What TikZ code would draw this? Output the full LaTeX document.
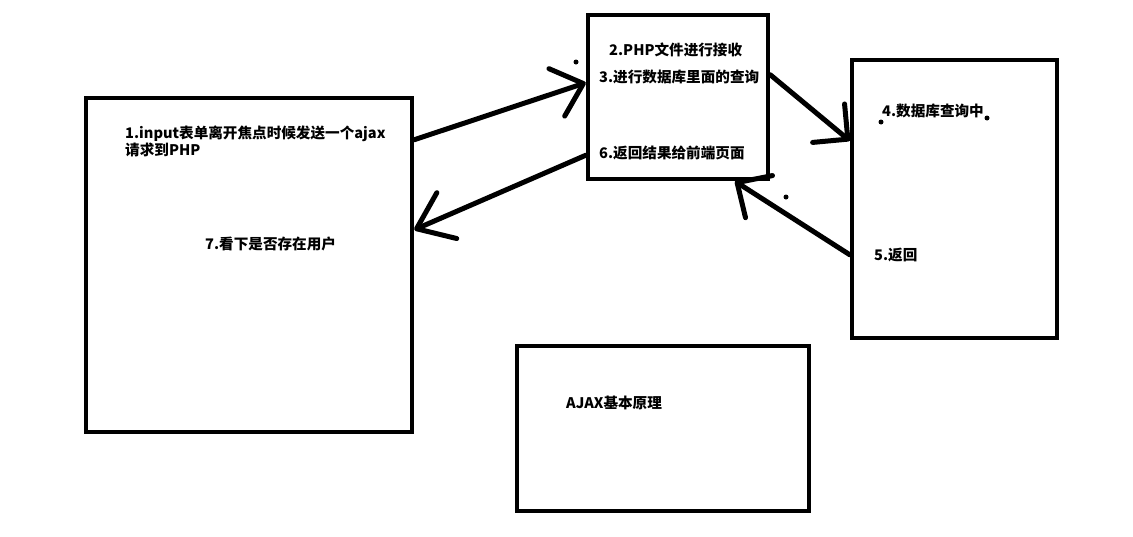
\documentclass[tikz,border=0pt]{standalone}
\usepackage{fontspec}
\setmainfont{Noto Sans CJK SC}
\usetikzlibrary{arrows.meta}

\tikzset{
	box/.style={draw, line width=4.5pt, inner sep=0pt},
	txt/.style={anchor=west, inner sep=0pt, font=\bfseries\fontsize{14.6}{17}\selectfont},
	bigarrow/.style={line width=5pt, line cap=round, -{Straight Barb[round, length=#1, width=50pt]}},
	bigarrow/.default=28pt,
	blot/.style={fill=black},
}

\begin{document}
\begin{tikzpicture}[x=1pt, y=-1pt]
	\useasboundingbox (0,0) rectangle (1133,536);

	% the four boxes
	\node[box, minimum width=326pt, minimum height=334pt] (form) at (249,265) {};
	\node[box, minimum width=180pt, minimum height=164pt] (php) at (678,97) {};
	\node[box, minimum width=205pt, minimum height=278pt] (db) at (954.5,199) {};
	\node[box, minimum width=292pt, minimum height=165pt] (title) at (663,428.5) {};

	% texts
	\node[txt, anchor=north west, align=left] (t1) at (125,126)
		{1.input表单离开焦点时候发送一个ajax\\请求到PHP};
	\node[txt] (t7) at (205,244) {7.看下是否存在用户};
	\node[txt] (t2) at (609,50) {2.PHP文件进行接收};
	\node[txt] (t3) at (599,77) {3.进行数据库里面的查询};
	\node[txt] (t6) at (599,153) {6.返回结果给前端页面};
	\node[txt] (t4) at (882,111) {4.数据库查询中};
	\node[txt] (t5) at (874,255) {5.返回};
	\node[txt] (tt) at (566,403) {AJAX基本原理};

	% arrows
	\draw[bigarrow] ([yshift=-44pt]form.north east) -- ([yshift=-70pt]php.north west);
	\draw[bigarrow=33pt] ([yshift=26pt]php.south west) -- ([yshift=-134pt]form.north east);
	\draw[bigarrow=25pt] ([yshift=-62pt]php.north east) -- ([yshift=-83pt]db.north west);
	\draw[bigarrow=26pt] ([yshift=-197pt]db.north west) -- ([xshift=57pt]php.south);

	% stray dots
	\fill[blot] (576,62) circle (2.5pt);
	\fill[blot] (881,122) circle (2.5pt);
	\fill[blot] (987,118) circle (2.5pt);
	\fill[blot] (786,197) circle (2.5pt);
\end{tikzpicture}
\end{document}
